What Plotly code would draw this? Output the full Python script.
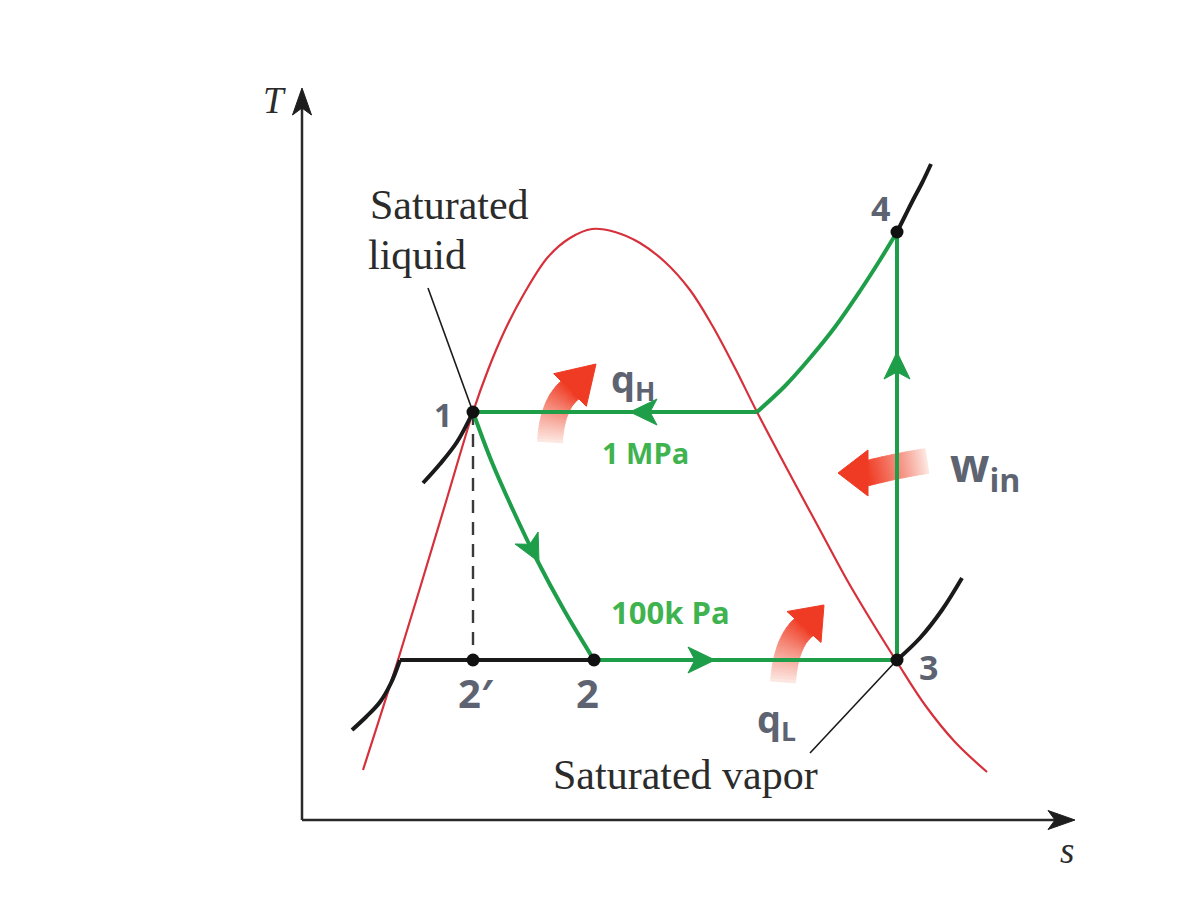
import numpy as np
import plotly.graph_objects as go

# ---------------- data (s, T in diagram units) ----------------
dome_s = [363, 380, 398, 420, 445, 473, 488, 505, 525, 548, 570, 592, 615, 640, 665, 690,
          712, 735, 757, 793, 820, 847, 872, 897, 925, 955, 987]
dome_T = [140, 193, 250, 322, 405, 498, 540, 580, 618, 653, 672, 681, 678, 667, 648, 620,
          585, 542, 498, 430, 380, 330, 288, 248, 205, 168, 138]

state_labels = ["1", "2", "2′", "3", "4"]
state_s = [473, 594, 473, 897, 897]
state_T = [498, 250, 250, 250, 678]

# cycle processes (green)
throttle_s = [473, 491, 513, 537, 564, 594]
throttle_T = [498, 450, 400, 350, 300, 250]
superheat_s = [897, 880, 860, 835, 810, 785, 757]
superheat_T = [678, 650, 619, 583, 552, 524, 498]
condense_s = [757, 473]
condense_T = [498, 498]
evap_s = [594, 897]
evap_T = [250, 250]
compress_s = [897, 897]
compress_T = [250, 678]

# constant-pressure lines (black)
liqline_s = [400, 594]
liqline_T = [250, 250]
iso_low_s = [352, 366, 380, 391, 400]
iso_low_T = [180, 193, 208, 227, 250]
iso_1_s = [423, 440, 457, 473]
iso_1_T = [427, 446, 468, 498]
iso_3_s = [897, 920, 942, 962]
iso_3_T = [250, 272, 300, 332]
iso_4_s = [897, 905, 913, 922, 931]
iso_4_T = [678, 694, 710, 727, 746]

# leaders and dashed isentrope
liq_leader_s = [428, 473]
liq_leader_T = [622, 498]
vap_leader_s = [810, 897]
vap_leader_T = [157, 250]
dash_s = [473, 473]
dash_T = [498, 250]

# axes
axis_origin = (302, 90)
axis_T_top = 822
axis_s_end = 1075

# flow arrows on cycle: tip (s, T) and direction
flow_tips = [(630, 498), (539, 348), (715, 250), (897, 558)]
flow_dirs = [(-1, 0), (26, -50), (1, 0), (0, 1)]

# heat / work arrows: tail, control, body end, tip
heat_arrows = {
    "qH": [(550, 468), (552, 505), (570, 520), (596, 546)],
    "qL": [(783, 228), (786, 268), (804, 283), (824, 305)],
    "win": [(927, 449), (900, 445), (868, 437), (838, 437)],
}

GREEN = "#1f9e4a"
BLACK = "#1a1a1a"
RED = "#d6303b"
GRAY = "#5d6370"
LGREEN = "#3fb34f"

fig = go.Figure()


def line(xs, ys, color, width, dash=None, shape="spline"):
    fig.add_trace(go.Scatter(x=xs, y=ys, mode="lines",
                             line=dict(color=color, width=width, dash=dash, shape=shape,
                                       smoothing=1.0),
                             hoverinfo="skip", showlegend=False))


# axes lines
line([axis_origin[0], axis_origin[0]], [axis_origin[1], axis_T_top - 10], "#2a2a2a", 2.5, shape="linear")
line([axis_origin[0], axis_s_end - 10], [axis_origin[1], axis_origin[1]], "#2a2a2a", 2.5, shape="linear")

# dome
line(dome_s, dome_T, RED, 2.2)

# black isobars
line(liqline_s, liqline_T, BLACK, 4, shape="linear")
line(iso_low_s, iso_low_T, BLACK, 4)
line(iso_1_s, iso_1_T, BLACK, 4)
line(iso_3_s, iso_3_T, BLACK, 4)
line(iso_4_s, iso_4_T, BLACK, 4)

# leaders, dashed
line(liq_leader_s, liq_leader_T, BLACK, 1.6, shape="linear")
line(vap_leader_s, vap_leader_T, BLACK, 1.6, shape="linear")
line(dash_s, dash_T, "#3a3a3a", 2.4, dash="13px,9px", shape="linear")

# green cycle
line(throttle_s, throttle_T, GREEN, 4)
line(superheat_s, superheat_T, GREEN, 4)
line(condense_s, condense_T, GREEN, 4, shape="linear")
line(evap_s, evap_T, GREEN, 4, shape="linear")
line(compress_s, compress_T, GREEN, 4, shape="linear")

# state dots
fig.add_trace(go.Scatter(x=state_s, y=state_T, mode="markers",
                         marker=dict(color="#111111", size=13),
                         hoverinfo="skip", showlegend=False))

shapes = []


def arrowhead(tip, d, length, hw, notch, color):
    tip = np.array(tip, float)
    d = np.array(d, float)
    d = d / np.linalg.norm(d)
    n = np.array([-d[1], d[0]])
    base = tip - d * length
    p1 = base + n * hw
    p2 = base - n * hw
    pn = tip - d * (length - notch)
    path = "M {:.1f},{:.1f} L {:.1f},{:.1f} L {:.1f},{:.1f} L {:.1f},{:.1f} Z".format(
        tip[0], tip[1], p1[0], p1[1], pn[0], pn[1], p2[0], p2[1])
    shapes.append(dict(type="path", path=path, fillcolor=color,
                       line=dict(color=color, width=1), layer="above"))


for tip, d in zip(flow_tips, flow_dirs):
    arrowhead(tip, d, 27, 13, 7, GREEN)

# axis arrowheads
arrowhead((axis_origin[0], axis_T_top), (0, 1), 27, 9.5, 7, "#1e1e1e")
arrowhead((axis_s_end, axis_origin[1]), (1, 0), 27, 9.5, 7, "#1e1e1e")

# gradient heat arrows
tail_c = np.array([253, 236, 230])
head_c = np.array([240, 62, 38])


def bez(p0, p1, p2, t):
    return (1 - t) ** 2 * p0 + 2 * (1 - t) * t * p1 + t ** 2 * p2


for key, (p0, p1, p2, tip) in heat_arrows.items():
    p0, p1, p2, tip = (np.array(p, float) for p in (p0, p1, p2, tip))
    N = 26
    ts = np.linspace(0, 1.06, N + 1)
    pts = [bez(p0, p1, p2, t) for t in ts]
    hw_body = 12.5
    normals = []
    for i in range(len(pts)):
        a = pts[max(i - 1, 0)]
        b = pts[min(i + 1, len(pts) - 1)]
        d = (b - a) / np.linalg.norm(b - a)
        normals.append(np.array([-d[1], d[0]]))
    for i in range(N):
        c = tail_c + (head_c - tail_c) * min(1.0, (ts[i] + ts[i + 1]) / 2) ** 0.9
        col = "rgb({},{},{})".format(*[int(v) for v in c])
        a1 = pts[i] + normals[i] * hw_body
        a2 = pts[i] - normals[i] * hw_body
        b1 = pts[i + 1] + normals[i + 1] * hw_body
        b2 = pts[i + 1] - normals[i + 1] * hw_body
        path = "M {:.1f},{:.1f} L {:.1f},{:.1f} L {:.1f},{:.1f} L {:.1f},{:.1f} Z".format(
            a1[0], a1[1], b1[0], b1[1], b2[0], b2[1], a2[0], a2[1])
        shapes.append(dict(type="path", path=path, fillcolor=col,
                           line=dict(color=col, width=0.8), layer="below"))
    d = (tip - p2) / np.linalg.norm(tip - p2)
    n = np.array([-d[1], d[0]])
    c1 = p2 + n * 23
    c2 = p2 - n * 23
    path = "M {:.1f},{:.1f} L {:.1f},{:.1f} L {:.1f},{:.1f} Z".format(
        tip[0], tip[1], c1[0], c1[1], c2[0], c2[1])
    shapes.append(dict(type="path", path=path, fillcolor="rgb(239,58,36)",
                       line=dict(color="rgb(239,58,36)", width=1), layer="below"))

# ---------------- text ----------------
SERIF = "Liberation Serif"
HAND = "Open Sans"
ann = []


def text(x, y, s, size, color, family, xanchor="center", italic=False, weight="normal"):
    if italic:
        s = "<i>" + s + "</i>"
    ann.append(dict(x=x, y=y, text=s, showarrow=False, xanchor=xanchor, yanchor="middle",
                    font=dict(size=size, color=color, family=family, weight=weight)))


text(368, 705, "Saturated", 42, "#2b2b2b", SERIF, xanchor="left")
text(366, 655, "liquid", 42, "#2b2b2b", SERIF, xanchor="left")
text(685, 135, "Saturated vapor", 42, "#2b2b2b", SERIF)
text(274, 810, "T", 37, "#2b2b2b", SERIF, italic=True)
text(1067, 60, "s", 37, "#2b2b2b", SERIF, italic=True)

label_pos = {"1": (443, 496), "2": (587, 218), "2′": (476, 218), "3": (928, 243), "4": (880, 702)}
label_size = {"1": 32, "2": 40, "2′": 40, "3": 34, "4": 34}
for lab in state_labels:
    x, y = label_pos[lab]
    text(x, y, lab, label_size[lab], GRAY, HAND, weight="bold")

text(633, 530, "q<sub>H</sub>", 38, GRAY, HAND, weight="bold")
text(776, 190, "q<sub>L</sub>", 38, GRAY, HAND, weight="bold")
text(985, 443, "w<sub>in</sub>", 46, GRAY, HAND, weight="bold")
text(645, 458, "1 MPa", 29, LGREEN, HAND, weight="bold")
text(670, 298, "100k Pa", 31, LGREEN, HAND, weight="bold")

fig.update_layout(
    width=1200, height=910, autosize=False,
    margin=dict(l=0, r=0, t=0, b=0, pad=0),
    paper_bgcolor="white", plot_bgcolor="white",
    xaxis=dict(range=[0, 1200], visible=False, fixedrange=True),
    yaxis=dict(range=[0, 910], visible=False, fixedrange=True),
    shapes=shapes, annotations=ann, showlegend=False,
)

fig.write_html("out.html")
